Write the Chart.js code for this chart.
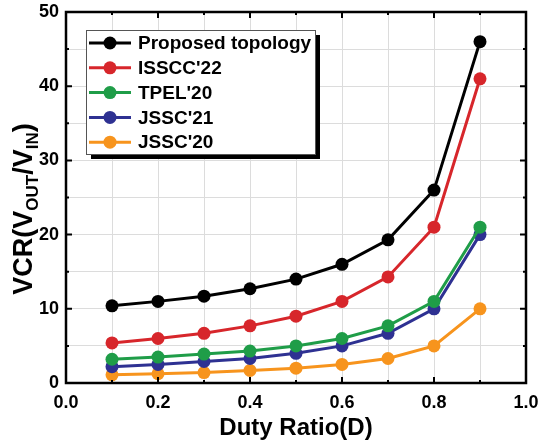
<!DOCTYPE html>
<html lang="en">
<head>
<meta charset="UTF-8">
<title>VCR vs Duty Ratio</title>
<script src="https://cdn.jsdelivr.net/npm/chart.js"></script>
<style>
    html, body { margin: 0; padding: 0; background: #fff; }
    .chart-container { width: 540px; height: 443px; }
</style>
</head>
<body>
<div class="chart-container">
    <canvas id="vcrChart"></canvas>
</div>
<script>
    // data
    let duty = [0.1, 0.2, 0.3, 0.4, 0.5, 0.6, 0.7, 0.8, 0.9];
    let proposed = [10.4, 11, 11.7, 12.7, 14, 16, 19.3, 26, 46];
    let isscc22 = [5.4, 6, 6.7, 7.7, 9, 11, 14.3, 21, 41];
    let tpel20 = [3.2, 3.5, 3.9, 4.3, 5, 6, 7.7, 11, 21];
    let jssc21 = [2.2, 2.5, 2.9, 3.3, 4, 5, 6.7, 10, 20];
    let jssc20 = [1.1, 1.25, 1.4, 1.7, 2, 2.5, 3.3, 5, 10];

    let names = ["Proposed topology", "ISSCC'22", "TPEL'20", "JSSC'21", "JSSC'20"];
    let series = [proposed, isscc22, tpel20, jssc21, jssc20];
    let colors = ["#000000", "#d7262b", "#1f9d48", "#2e3192", "#f7941d"];

    const FONT = "Arial, 'Liberation Sans', sans-serif";

    let datasets = series.map((s, i) => ({
        label: names[i],
        data: s.map((v, j) => ({ x: duty[j], y: v })),
        borderColor: colors[i],
        backgroundColor: colors[i],
        borderWidth: 3,
        pointRadius: 6.5,
        pointHoverRadius: 6.5,
        pointBorderWidth: 0,
        order: i
    })).reverse();

    // frame with inward ticks on all four sides
    const framePlugin = {
        id: "frame",
        afterDatasetsDraw(chart) {
            const ctx = chart.ctx, a = chart.chartArea;
            const xs = chart.scales.x, ys = chart.scales.y;
            ctx.save();
            ctx.strokeStyle = "#000";
            ctx.lineWidth = 2;
            for (let k = 1; k <= 9; k++) {
                let px = xs.getPixelForValue(k / 10);
                let len = k % 2 === 0 ? 6 : 3;
                ctx.beginPath();
                ctx.moveTo(px, a.bottom); ctx.lineTo(px, a.bottom - len);
                ctx.moveTo(px, a.top); ctx.lineTo(px, a.top + len);
                ctx.stroke();
            }
            for (let v = 5; v < 50; v += 5) {
                let py = ys.getPixelForValue(v);
                let len = v % 10 === 0 ? 6 : 3;
                ctx.beginPath();
                ctx.moveTo(a.left, py); ctx.lineTo(a.left + len, py);
                ctx.moveTo(a.right, py); ctx.lineTo(a.right - len, py);
                ctx.stroke();
            }
            ctx.lineWidth = 2.5;
            ctx.strokeRect(a.left, a.top, a.right - a.left, a.bottom - a.top);
            ctx.restore();
        }
    };

    // legend box with drop shadow
    const legendPlugin = {
        id: "boxLegend",
        afterDraw(chart) {
            const ctx = chart.ctx;
            let bx = 86, by = 30, bw = 229, bh = 124;
            ctx.save();
            ctx.fillStyle = "#000";
            ctx.fillRect(bx + 5, by + 5, bw, bh);
            ctx.fillStyle = "#fff";
            ctx.fillRect(bx, by, bw, bh);
            ctx.strokeStyle = "#555";
            ctx.lineWidth = 1;
            ctx.strokeRect(bx + 0.5, by + 0.5, bw, bh);
            ctx.font = "bold 19px " + FONT;
            ctx.textBaseline = "middle";
            names.forEach((n, i) => {
                let y = 43 + i * 24.8;
                ctx.strokeStyle = colors[i];
                ctx.lineWidth = 3;
                ctx.beginPath();
                ctx.moveTo(89, y); ctx.lineTo(131, y);
                ctx.stroke();
                ctx.fillStyle = colors[i];
                ctx.beginPath();
                ctx.arc(110, y, 6.5, 0, Math.PI * 2);
                ctx.fill();
                ctx.fillStyle = "#000";
                ctx.fillText(n, 138, y + 1);
            });
            ctx.restore();
        }
    };

    // y axis title with subscripts
    const yTitlePlugin = {
        id: "yTitle",
        afterDraw(chart) {
            const ctx = chart.ctx;
            let parts = [["VCR(V", 27, 0], ["OUT", 17, 6], ["/V", 27, 0], ["IN", 17, 6], [")", 27, 0]];
            ctx.save();
            let total = 0;
            parts.forEach(p => {
                ctx.font = "bold " + p[1] + "px " + FONT;
                total += ctx.measureText(p[0]).width;
            });
            ctx.translate(32, 209);
            ctx.rotate(-Math.PI / 2);
            ctx.fillStyle = "#000";
            ctx.textBaseline = "alphabetic";
            let x = -total / 2;
            parts.forEach(p => {
                ctx.font = "bold " + p[1] + "px " + FONT;
                ctx.fillText(p[0], x, p[2]);
                x += ctx.measureText(p[0]).width;
            });
            ctx.restore();
        }
    };

    let ctx = document.getElementById("vcrChart").getContext("2d");
    let vcrChart = new Chart(ctx, {
        type: "line",
        data: { datasets: datasets },
        options: {
            responsive: true,
            maintainAspectRatio: false,
            animation: false,
            layout: { padding: { top: 12, right: 14, left: 0, bottom: 0 } },
            plugins: {
                legend: { display: false },
                tooltip: { enabled: false }
            },
            scales: {
                x: {
                    type: "linear",
                    min: 0, max: 1,
                    afterFit: s => { s.height = 60; s.paddingLeft = 0; s.paddingRight = 0; },
                    grid: { color: "#dcdcdc", lineWidth: 1, drawTicks: false },
                    border: { display: false },
                    ticks: {
                        stepSize: 0.1,
                        padding: 9,
                        color: "#000",
                        font: { family: FONT, size: 18, weight: "bold" },
                        callback: v => (Math.round(v * 10) % 2 === 0 ? v.toFixed(1) : "")
                    },
                    title: {
                        display: true,
                        text: "Duty Ratio(D)",
                        color: "#000",
                        font: { family: FONT, size: 24, weight: "bold" },
                        padding: { top: 0, bottom: 0 }
                    }
                },
                y: {
                    min: 0, max: 50,
                    afterFit: s => { s.width = 66; s.paddingTop = 0; s.paddingBottom = 0; },
                    grid: { color: "#dcdcdc", lineWidth: 1, drawTicks: false },
                    border: { display: false },
                    ticks: {
                        stepSize: 5,
                        padding: 7,
                        color: "#000",
                        font: { family: FONT, size: 18, weight: "bold" },
                        callback: v => (v % 10 === 0 ? v : "")
                    }
                }
            }
        },
        plugins: [framePlugin, legendPlugin, yTitlePlugin]
    });
</script>
</body>
</html>
